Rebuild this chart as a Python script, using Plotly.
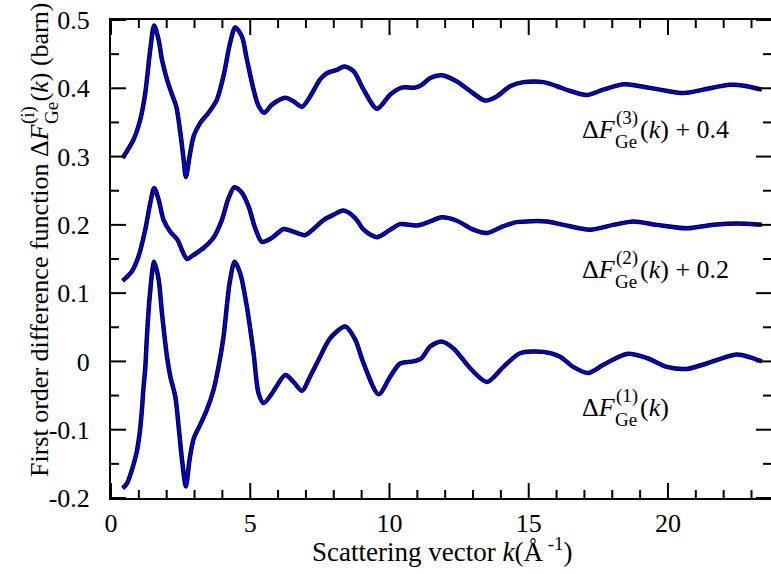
import plotly.graph_objects as go

# First order difference functions ΔF_Ge^(i)(k) read at selected k values (Å^-1)
k1 = [0.42, 0.57, 0.75, 0.91, 1.03, 1.11, 1.17, 1.23, 1.29, 1.39,
      1.55, 1.71, 1.83, 2.01, 2.13, 2.31, 2.43, 2.55, 2.69, 2.82,
      2.97, 3.20, 3.44, 3.68, 3.86, 4.04, 4.26, 4.44, 4.64, 4.88,
      5.12, 5.30, 5.48, 5.78, 6.26, 6.55, 6.86, 7.15, 7.45, 7.87,
      8.41, 8.77, 9.07, 9.61, 10.03, 10.38, 10.86, 11.16, 11.46, 11.88,
      12.30, 12.90, 13.50, 14.09, 14.69, 15.53, 16.13, 16.60, 17.14, 17.68,
      18.52, 19.24, 19.96, 20.67, 21.39, 22.47, 22.95, 23.37]
dF1 = [-0.186, -0.179, -0.159, -0.135, -0.105, -0.071, -0.037, -0.010, 0.036, 0.095,
       0.146, 0.120, 0.071, 0.007, -0.022, -0.052, -0.096, -0.144, -0.183, -0.144,
       -0.113, -0.093, -0.071, -0.042, -0.008, 0.036, 0.115, 0.146, 0.129, 0.080,
       0.012, -0.047, -0.061, -0.047, -0.020, -0.030, -0.043, -0.022, 0.002, 0.034,
       0.051, 0.032, -0.003, -0.048, -0.022, -0.003, 0.000, 0.005, 0.022, 0.029,
       0.019, -0.010, -0.030, -0.008, 0.012, 0.014, 0.007, -0.008, -0.017, -0.005,
       0.011, 0.005, -0.008, -0.011, -0.003, 0.010, 0.006, 0.000]

k2 = [0.42, 0.75, 0.99, 1.23, 1.41, 1.55, 1.71, 1.89, 2.13, 2.39,
      2.55, 2.73, 2.97, 3.32, 3.68, 3.98, 4.22, 4.43, 4.70, 4.94,
      5.18, 5.42, 5.78, 6.20, 6.55, 6.97, 7.27, 7.63, 8.00, 8.35,
      8.77, 9.07, 9.55, 10.03, 10.38, 10.98, 11.46, 11.88, 12.42, 13.01,
      13.50, 14.09, 14.57, 15.65, 16.25, 17.20, 18.04, 18.76, 19.60, 20.67,
      21.63, 22.47, 23.37]
dF2 = [-0.082, -0.068, -0.046, -0.007, 0.032, 0.054, 0.037, 0.007, -0.010, -0.022,
       -0.037, -0.050, -0.044, -0.034, -0.019, 0.007, 0.039, 0.055, 0.047, 0.027,
       -0.005, -0.025, -0.019, -0.006, -0.010, -0.015, -0.006, 0.007, 0.015, 0.021,
       0.010, -0.007, -0.018, -0.007, 0.001, -0.001, 0.005, 0.011, 0.006, -0.007,
       -0.012, -0.002, 0.004, 0.005, 0.000, -0.007, 0.000, 0.005, 0.000, -0.005,
       0.000, 0.002, 0.000]

k3 = [0.42, 0.81, 1.05, 1.23, 1.41, 1.55, 1.71, 1.83, 2.01, 2.19,
      2.34, 2.49, 2.61, 2.69, 2.82, 2.97, 3.20, 3.50, 3.80, 4.04,
      4.28, 4.46, 4.70, 4.88, 5.12, 5.30, 5.50, 5.78, 6.26, 6.55,
      6.86, 7.15, 7.51, 7.75, 8.11, 8.38, 8.71, 9.07, 9.55, 10.03,
      10.44, 10.92, 11.16, 11.46, 11.88, 12.42, 12.90, 13.43, 13.85, 14.33,
      14.81, 15.53, 16.01, 16.49, 17.08, 17.68, 18.40, 19.00, 19.72, 20.55,
      21.27, 22.23, 22.83, 23.37]
dF3 = [-0.102, -0.075, -0.046, -0.007, 0.057, 0.092, 0.071, 0.042, 0.013, -0.009,
       -0.026, -0.065, -0.105, -0.130, -0.100, -0.070, -0.051, -0.036, -0.017, 0.018,
       0.067, 0.089, 0.076, 0.042, -0.002, -0.026, -0.036, -0.024, -0.014, -0.019,
       -0.027, -0.012, 0.013, 0.022, 0.027, 0.032, 0.025, -0.002, -0.030, -0.009,
       0.001, 0.001, 0.005, 0.015, 0.019, 0.010, -0.004, -0.018, -0.012, 0.003,
       0.009, 0.009, 0.003, -0.004, -0.010, -0.002, 0.006, 0.003, -0.002, -0.007,
       -0.002, 0.005, 0.003, -0.002]

# vertical offsets applied to each function
offsets = [0.0, 0.2, 0.4]

x_ticks = [0, 5, 10, 15, 20]
x_labels = ["0", "5", "10", "15", "20"]
y_ticks = [-0.2, -0.1, 0.0, 0.1, 0.2, 0.3, 0.4, 0.5]
y_labels = ["-0.2", "-0.1", "0", "0.1", "0.2", "0.3", "0.4", "0.5"]
x_minor = [v for v in range(1, 24) if v % 5]
y_minor = [round(-0.15 + 0.1 * i, 2) for i in range(7)]

X_RANGE = [0, 23.7]
Y_RANGE = [-0.2, 0.5]

FONT = "Liberation Serif, serif"
W, H = 771, 574
L, R, T, B = 111, 771, 20, 498
MAJOR, MINOR = 15, 8  # inward tick lengths in px

fig = go.Figure()
for k, f, off in zip([k1, k2, k3], [dF1, dF2, dF3], offsets):
    y = [v + off for v in f]
    # measured data: dark band
    fig.add_trace(go.Scatter(x=k, y=y, mode="lines",
                             line=dict(color="black", width=4.5, shape="spline", smoothing=0.8),
                             hoverinfo="skip", showlegend=False))
    # fitted curve on top
    fig.add_trace(go.Scatter(x=k, y=y, mode="lines",
                             line=dict(color="#0000ee", width=2.5, shape="spline", smoothing=0.8),
                             hoverinfo="skip", showlegend=False))

# inward tick marks on all four sides, built from the tick positions
dx = (X_RANGE[1] - X_RANGE[0]) / (R - L)   # data units per pixel
dy = (Y_RANGE[1] - Y_RANGE[0]) / (B - T)
tx, ty = [], []
for vals, ln in ((x_ticks, MAJOR), (x_minor, MINOR)):
    for v in vals:
        tx += [v, v, None, v, v, None]
        ty += [Y_RANGE[0], Y_RANGE[0] + ln * dy, None, Y_RANGE[1], Y_RANGE[1] - ln * dy, None]
for vals, ln in ((y_ticks, MAJOR), (y_minor, MINOR)):
    for v in vals:
        tx += [X_RANGE[0], X_RANGE[0] + ln * dx, None, X_RANGE[1], X_RANGE[1] - ln * dx, None]
        ty += [v, v, None, v, v, None]
fig.add_trace(go.Scatter(x=tx, y=ty, mode="lines", line=dict(color="black", width=2),
                         cliponaxis=False, hoverinfo="skip", showlegend=False,
                         connectgaps=False))


def px(xp):
    return (xp - L) / (R - L)


def py(yp):
    return (B - yp) / (B - T)


ann = []


def add_text(text, xp, yp, size, xanchor="left", yanchor="middle", angle=0):
    ann.append(dict(text=text, x=px(xp), y=py(yp), xref="paper", yref="paper",
                    xanchor=xanchor, yanchor=yanchor, showarrow=False, textangle=angle,
                    font=dict(family=FONT, size=size, color="black"), borderpad=0))


# curve labels: ΔF with stacked superscript/subscript
for idx, base in zip(["(1)", "(2)", "(3)"], [415, 277, 137]):
    add_text("Δ<i>F</i>", 581, base - 8, 26)
    add_text(idx, 615, base - 19, 19)
    add_text("Ge", 614, base + 4, 19)
    tail = "(<i>k</i>)" if idx == "(1)" else "(<i>k</i>) + " + ("0.2" if idx == "(2)" else "0.4")
    add_text(tail, 639, base - 8, 26)

# y-axis title built from rotated pieces
add_text("First order difference function Δ<i>F</i>", 39, 478, 26, "center", "bottom", -90)
add_text("(i)", 28, 125, 19, "center", "bottom", -90)
add_text("Ge", 51, 125, 19, "center", "bottom", -90)
add_text("(<i>k</i>) (barn)", 39, 103, 26, "center", "bottom", -90)

# x-axis title
add_text("Scattering vector <i>k</i>(Å<sup> -1</sup>)", 442, 550, 27, "center", "middle")

fig.update_layout(
    width=W, height=H,
    margin=dict(l=L, r=W - R, t=T, b=H - B, pad=0),
    paper_bgcolor="white", plot_bgcolor="white",
    font=dict(family=FONT, size=26, color="black"),
    showlegend=False,
    annotations=ann,
    xaxis=dict(range=X_RANGE, tickmode="array", tickvals=x_ticks, ticktext=x_labels,
               showline=True, linewidth=2, linecolor="black", mirror=True,
               showgrid=False, zeroline=False, ticks="", ticklabelstandoff=1,
               tickfont=dict(family=FONT, size=26, color="black")),
    yaxis=dict(range=Y_RANGE, tickmode="array", tickvals=y_ticks, ticktext=y_labels,
               showline=True, linewidth=2, linecolor="black", mirror=False,
               showgrid=False, zeroline=False, ticks="", ticklabelstandoff=14,
               tickfont=dict(family=FONT, size=26, color="black")),
)

fig.write_html("out.html")
